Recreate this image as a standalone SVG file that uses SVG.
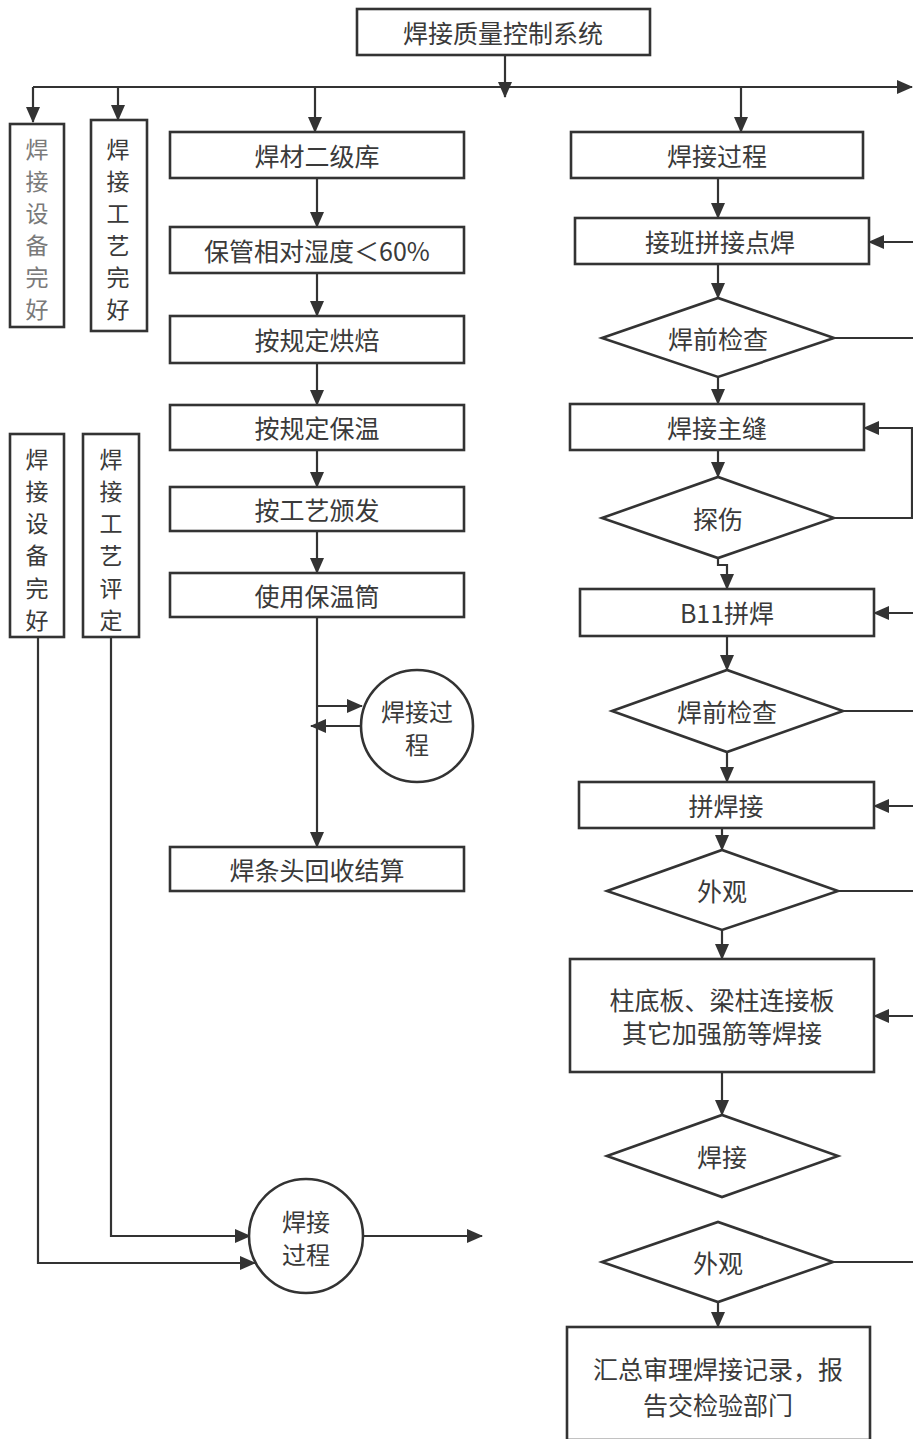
<svg xmlns="http://www.w3.org/2000/svg" width="913" height="1439" viewBox="0 0 913 1439">
<style>
.b{fill:#fff;stroke:#333;stroke-width:2.6}
.t{font-family:"Noto Sans CJK SC","Liberation Sans",sans-serif;font-size:25px;fill:#3a3a3a;text-anchor:middle;dominant-baseline:central}
.v{font-size:23px}
.s{font-size:24px}
.g{fill:#7a7a7a}
.c{fill:none;stroke:#333;stroke-width:2.2}
.a{marker-end:url(#ah)}
</style>
<defs>
<marker id="ah" markerUnits="userSpaceOnUse" markerWidth="16" markerHeight="14" refX="15" refY="7" orient="auto">
<path d="M0,0 L16,7 L0,14 Z" fill="#333"/>
</marker>
</defs>
<rect width="913" height="1439" fill="#fff"/>
<g id="connectors">
<path class="c a" d="M505,55 V97"/>
<path class="c a" d="M33,87 H912"/>
<path class="c a" d="M33,87 V122"/>
<path class="c a" d="M118,87 V120"/>
<path class="c a" d="M315,87 V132"/>
<path class="c a" d="M741,87 V132"/>
<path class="c a" d="M317,178 V227"/>
<path class="c a" d="M317,273 V316"/>
<path class="c a" d="M317,363 V405"/>
<path class="c a" d="M317,450 V487"/>
<path class="c a" d="M317,531 V573"/>
<path class="c a" d="M317,617 V847"/>
<path class="c a" d="M317,706 H362"/>
<path class="c a" d="M362,726 H311"/>
<path class="c a" d="M38,637 V1263 H255"/>
<path class="c a" d="M111,637 V1236 H250"/>
<path class="c a" d="M363,1236 H482"/>
<path class="c a" d="M718,178 V218"/>
<path class="c a" d="M718,264 V298"/>
<path class="c a" d="M913,242 H869"/>
<path class="c" d="M834,338 H913"/>
<path class="c a" d="M718,377 V404"/>
<path class="c a" d="M718,450 V477"/>
<path class="c a" d="M834,518 H912 V428 H864"/>
<path class="c a" d="M718,558 V565 H727 V589"/>
<path class="c a" d="M913,613 H874"/>
<path class="c a" d="M727,636 V670"/>
<path class="c" d="M843,711 H913"/>
<path class="c a" d="M727,752 V782"/>
<path class="c a" d="M913,806 H874"/>
<path class="c a" d="M722,828 V850"/>
<path class="c" d="M838,891 H913"/>
<path class="c a" d="M722,930 V959"/>
<path class="c a" d="M913,1016 H874"/>
<path class="c a" d="M722,1072 V1115"/>
<path class="c" d="M833,1262 H913"/>
<path class="c a" d="M718,1302 V1327"/>
</g>
<g id="n_top"><rect class="b" x="357" y="9" width="293" height="46"/><text class="t" x="503" y="32">焊接质量控制系统</text></g>
<g id="n_a"><rect class="b" x="10" y="124" width="54" height="203"/>
<text class="t v g" x="37"><tspan x="37" y="148">焊</tspan><tspan x="37" y="180">接</tspan><tspan x="37" y="212">设</tspan><tspan x="37" y="244">备</tspan><tspan x="37" y="276">完</tspan><tspan x="37" y="308">好</tspan></text></g>
<g id="n_b"><rect class="b" x="91" y="120" width="56" height="211"/>
<text class="t v" x="118"><tspan x="118" y="148">焊</tspan><tspan x="118" y="180">接</tspan><tspan x="118" y="212">工</tspan><tspan x="118" y="244">艺</tspan><tspan x="118" y="276">完</tspan><tspan x="118" y="308">好</tspan></text></g>
<g id="n_c"><rect class="b" x="10" y="434" width="54" height="203"/>
<text class="t v" x="37"><tspan x="37" y="458">焊</tspan><tspan x="37" y="490">接</tspan><tspan x="37" y="522">设</tspan><tspan x="37" y="554">备</tspan><tspan x="37" y="587">完</tspan><tspan x="37" y="619">好</tspan></text></g>
<g id="n_d"><rect class="b" x="83" y="434" width="56" height="203"/>
<text class="t v" x="111"><tspan x="111" y="458">焊</tspan><tspan x="111" y="490">接</tspan><tspan x="111" y="522">工</tspan><tspan x="111" y="554">艺</tspan><tspan x="111" y="587">评</tspan><tspan x="111" y="619">定</tspan></text></g>
<g id="n_l1"><rect class="b" x="170" y="132" width="294" height="46"/><text class="t" x="317" y="155">焊材二级库</text></g>
<g id="n_l2"><rect class="b" x="170" y="227" width="294" height="46"/><text class="t" x="317" y="250">保管相对湿度＜60%</text></g>
<g id="n_l3"><rect class="b" x="170" y="316" width="294" height="47"/><text class="t" x="317" y="339">按规定烘焙</text></g>
<g id="n_l4"><rect class="b" x="170" y="405" width="294" height="45"/><text class="t" x="317" y="427">按规定保温</text></g>
<g id="n_l5"><rect class="b" x="170" y="487" width="294" height="44"/><text class="t" x="317" y="509">按工艺颁发</text></g>
<g id="n_l6"><rect class="b" x="170" y="573" width="294" height="44"/><text class="t" x="317" y="595">使用保温筒</text></g>
<g id="n_lc"><circle class="b" cx="417" cy="726" r="56"/><text class="t s" x="417" y="710">焊接过</text><text class="t s" x="417" y="743">程</text></g>
<g id="n_l7"><rect class="b" x="170" y="847" width="294" height="44"/><text class="t" x="317" y="869">焊条头回收结算</text></g>
<g id="n_bc"><circle class="b" cx="306" cy="1236" r="57"/><text class="t s" x="306" y="1220">焊接</text><text class="t s" x="306" y="1253">过程</text></g>
<g id="n_r1"><rect class="b" x="571" y="132" width="292" height="46"/><text class="t" x="717" y="155">焊接过程</text></g>
<g id="n_r2"><rect class="b" x="575" y="218" width="294" height="46"/><text class="t" x="720" y="241">接班拼接点焊</text></g>
<g id="n_r3"><polygon class="b" points="602,338 718,298 834,338 718,377"/><text class="t" x="718" y="338">焊前检查</text></g>
<g id="n_r4"><rect class="b" x="570" y="404" width="294" height="46"/><text class="t" x="717" y="427">焊接主缝</text></g>
<g id="n_r5"><polygon class="b" points="602,518 718,477 834,518 718,558"/><text class="t" x="718" y="518">探伤</text></g>
<g id="n_r6"><rect class="b" x="580" y="589" width="294" height="47"/><text class="t" x="727" y="612">B11拼焊</text></g>
<g id="n_r7"><polygon class="b" points="612,711 727,670 843,711 727,752"/><text class="t" x="727" y="711">焊前检查</text></g>
<g id="n_r8"><rect class="b" x="579" y="782" width="295" height="46"/><text class="t" x="726" y="805">拼焊接</text></g>
<g id="n_r9"><polygon class="b" points="607,891 722,850 838,891 722,930"/><text class="t" x="722" y="890">外观</text></g>
<g id="n_r10"><rect class="b" x="570" y="959" width="304" height="113"/><text class="t" x="722" y="999">柱底板、梁柱连接板</text><text class="t" x="722" y="1032">其它加强筋等焊接</text></g>
<g id="n_r11"><polygon class="b" points="607,1156 722,1115 838,1156 722,1197"/><text class="t" x="722" y="1156">焊接</text></g>
<g id="n_r12"><polygon class="b" points="602,1262 718,1222 833,1262 718,1302"/><text class="t" x="718" y="1262">外观</text></g>
<g id="n_r13"><rect class="b" x="567" y="1327" width="303" height="113"/><text class="t" x="718" y="1368">汇总审理焊接记录，报</text><text class="t" x="718" y="1404">告交检验部门</text></g>
</svg>
